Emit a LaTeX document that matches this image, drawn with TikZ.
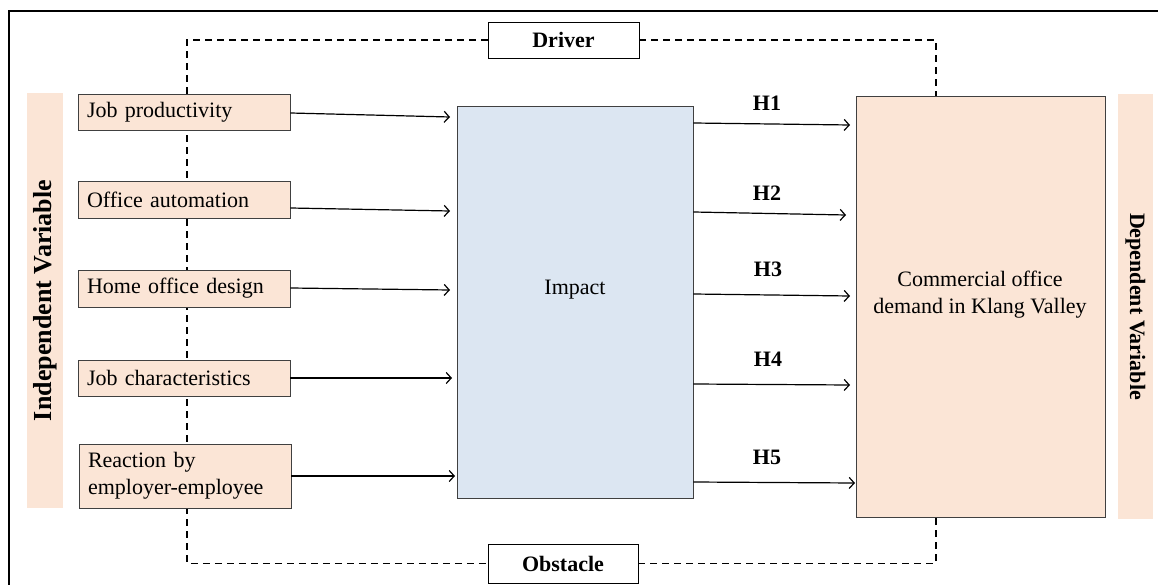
\documentclass[tikz,border=0pt]{standalone}
\usepackage{fontspec}
\setmainfont{Liberation Serif}
\usetikzlibrary{arrows.meta}
\definecolor{peach}{HTML}{FBE5D6}
\definecolor{paleblue}{HTML}{DCE6F2}
\definecolor{edge}{HTML}{404040}
\begin{document}
\begin{tikzpicture}[x=1pt,y=-1pt,
  every node/.style={font=\fontsize{22}{27}\selectfont},
  varbox/.style={draw=edge, line width=0.9pt, fill=peach, inner xsep=9pt, inner ysep=0pt,
    text width=194pt, align=left, minimum height=36pt},
  bigbox/.style={draw=edge, line width=0.9pt, inner sep=0pt},
  column/.style={fill=peach, inner sep=0pt},
  colfont/.style={font=\fontsize{22}{26}\selectfont\bfseries},
  tagbox/.style={draw=black, line width=0.9pt, fill=white, inner sep=0pt, font=\fontsize{22}{26}\selectfont\bfseries},
  hlabel/.style={font=\fontsize{22}{26}\selectfont\bfseries, inner sep=0pt},
  dashline/.style={line width=1.4pt, dash pattern=on 7pt off 5pt},
  arr/.style={line width=1.2pt, -{Straight Barb[length=5pt,width=11pt,line width=1.2pt]}}
]
\clip (0,0) rectangle (1158,585);
\useasboundingbox (0,0) rectangle (1158,585);
% outer frame
\draw[line width=1.5pt] (9,600) -- (9,11) -- (1170,11);

% coordinates for dashed frame
\coordinate (dxl) at (187,0);
\coordinate (dxr) at (936,0);

% tag boxes
\node[tagbox, minimum width=151pt, minimum height=36pt] (drv) at (563.5,40) {Driver};
\node[tagbox, minimum width=150pt, minimum height=39pt] (obs) at (563,563.5) {Obstacle};

% dashed frame (behind boxes)
\draw[dashline] (drv.west) -- (drv.west -| dxl) -- (dxl |- obs.west) -- (obs.west);
\draw[dashline] (drv.east) -- (drv.east -| dxr) -- (dxr |- 0,96);
\draw[dashline] (obs.east) -- (obs.east -| dxr) -- (dxr |- 0,517);

% side columns
\node[column, minimum width=36pt, minimum height=415pt] (ind) at (45,300.5) {};
\node[colfont, font=\fontsize{26}{30}\selectfont\bfseries, rotate=90] (indt) at (ind.center) {Independent Variable};
\node[column, minimum width=35pt, minimum height=425pt] (dep) at (1135.5,306.5) {};
\node[colfont, rotate=-90] (dept) at (dep.center) {Dependent Variable};

% independent variable boxes
\node[varbox] (b1) at (184,112) {Job productivity};
\node[varbox, minimum height=37pt] (b2) at (184,199.5) {Office automation};
\node[varbox, minimum height=37pt] (b3) at (184,288.5) {Home office design};
\node[varbox] (b4) at (184,378) {Job characteristics};
\node[varbox, minimum height=64pt] (b5) at (185,476) {Reaction by\\employer-employee};

% impact box
\node[bigbox, fill=paleblue, minimum width=236pt, minimum height=392pt] (imp) at (575,302) {};
\node (impt) at (575,290) {Impact};

% dependent box
\node[bigbox, fill=peach, minimum width=249pt, minimum height=421pt] (com) at (980.5,306.5) {};
\node[align=center, font=\fontsize{22}{27}\selectfont] (comt) at (980,295) {Commercial office\\demand in Klang Valley};

% left arrows
\draw[arr] (b1.east |- 0,113) -- (450,117);
\draw[arr] (b2.east |- 0,208) -- (450,211);
\draw[arr] (b3.east |- 0,288) -- (450,290);
\draw[arr] (b4.east |- 0,378) -- (452,378);
\draw[arr] (b5.east |- 0,476) -- (455,476);

% right arrows
\draw[arr] (imp.east |- 0,123) -- (850,125);
\draw[arr] (imp.east |- 0,212) -- (846,215);
\draw[arr] (imp.east |- 0,294) -- (850,296);
\draw[arr] (imp.east |- 0,384) -- (850,385);
\draw[arr] (imp.east |- 0,482) -- (855,483);

% hypothesis labels
\node[hlabel] (h1) at (767,103) {H1};
\node[hlabel] (h2) at (767,193) {H2};
\node[hlabel] (h3) at (768,269) {H3};
\node[hlabel] (h4) at (768,359) {H4};
\node[hlabel] (h5) at (767,457) {H5};
\end{tikzpicture}
\end{document}
